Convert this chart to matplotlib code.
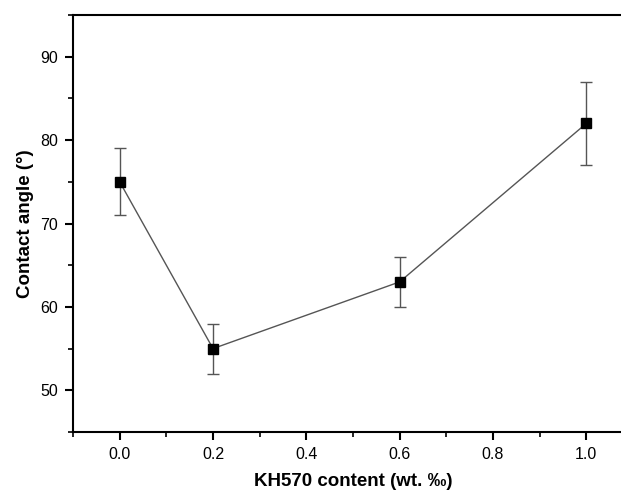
import matplotlib
matplotlib.use("Agg")
import matplotlib.pyplot as plt
from matplotlib.ticker import MultipleLocator

x = [0.0, 0.2, 0.6, 1.0]
angle = [75, 55, 63, 82]
err = [4, 3, 3, 5]

plt.rcParams['font.family'] = ['Liberation Sans', 'DejaVu Sans']

fig = plt.figure(figsize=(6.21, 4.91), dpi=100)
ax = fig.add_axes([73/621, (491-432)/491, (633-73)/621, (432-15)/491])

ax.errorbar(x, angle, yerr=err, color='#555555', lw=1.0, ecolor='#555555',
            elinewidth=1.0, capsize=4.5, capthick=1.0,
            marker='s', markersize=7, markerfacecolor='black', markeredgecolor='black', zorder=3)

ax.set_xlim(-0.1, 1.1)
ax.set_ylim(45, 95)
ax.xaxis.set_major_locator(MultipleLocator(0.2))
ax.xaxis.set_minor_locator(MultipleLocator(0.1))
ax.yaxis.set_major_locator(MultipleLocator(10))
ax.yaxis.set_minor_locator(MultipleLocator(5))
ax.set_xticks([0.0, 0.2, 0.4, 0.6, 0.8, 1.0])
ax.set_xticklabels(['0.0', '0.2', '0.4', '0.6', '0.8', '1.0'])
ax.set_yticks([50, 60, 70, 80, 90])

for s in ax.spines.values():
    s.set_linewidth(1.5)
ax.spines['right'].set_visible(False)
ax.tick_params(which='major', direction='out', length=6, width=1.5, labelsize=11.5, pad=5)
ax.tick_params(which='minor', direction='out', length=3.5, width=1.2)
ax.tick_params(axis='x', top=False)

ax.set_xlabel('KH570 content (wt. ‰)', fontsize=13.5, fontweight='bold', labelpad=8)
ax.set_ylabel('Contact angle (°)', fontsize=13.5, fontweight='bold', labelpad=4)

fig.savefig('out.png', dpi=100)
